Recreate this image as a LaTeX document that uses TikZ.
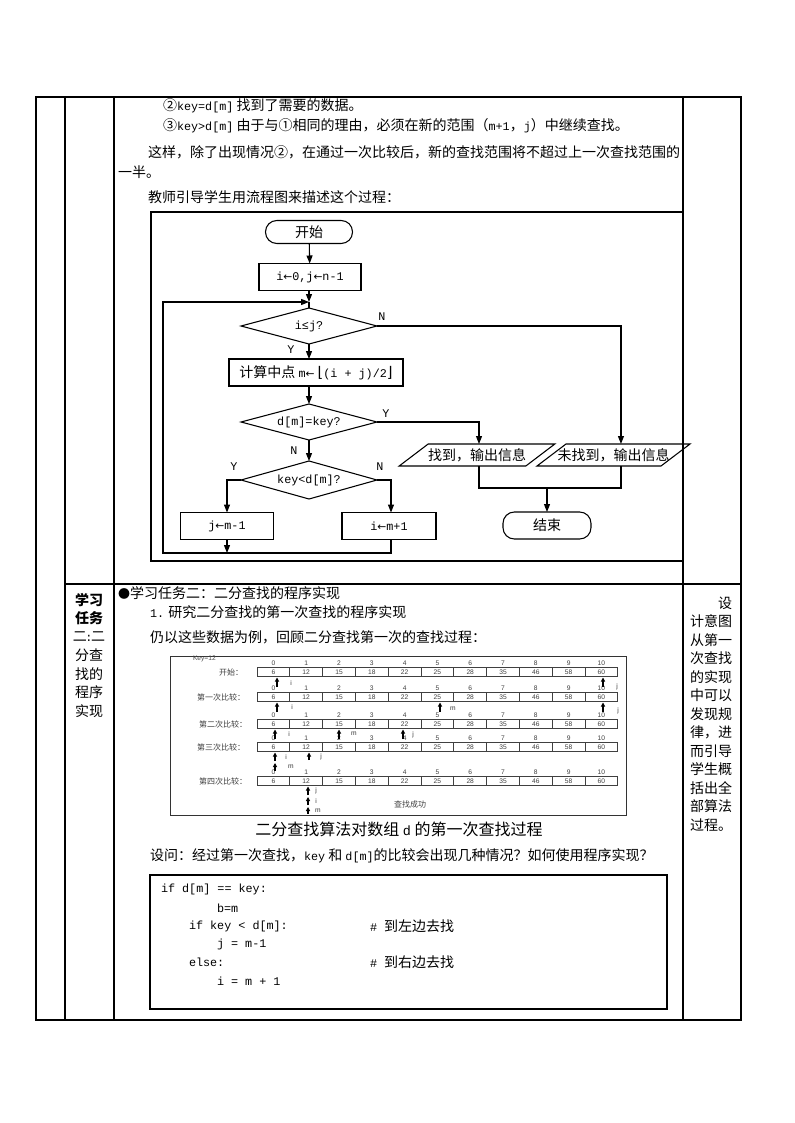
\documentclass[tikz,border=0pt]{standalone}
\usepackage{fontspec}
\setmainfont{Noto Sans CJK SC}
\newfontfamily\mono[Scale=0.84]{Liberation Mono}
\newfontfamily\symf{DejaVu Sans}
\newfontfamily\tinyf{Liberation Sans}
\usetikzlibrary{arrows.meta,shapes.geometric,calc}
\newcommand\myfs{\fontsize{10.5pt}{14pt}\selectfont}
\newcommand\larr{{\symf\fontsize{8pt}{9pt}\selectfont ←}}
\newcommand\arrrow[1]{%
  \foreach \v [count=\k from 0] in {6,12,15,18,22,25,28,35,46,58,60} {%
    \draw[cell] ({257+32.8*\k},{#1-4.5}) rectangle ++(32.8,9);
    \node[tnum] at ({257+32.8*\k+16.4},#1) {\v};
    \node[tnum] at ({257+32.8*\k+16.4},{#1-9}) {\k};
  }}
\begin{document}
\begin{tikzpicture}[x=0.75pt,y=-0.75pt,
  every node/.style={inner sep=0pt, outer sep=0pt},
  tbl/.style={line width=0.9pt},
  box/.style={draw, line width=0.8pt, minimum height=20.25pt, font=\myfs},
  term/.style={box, rounded corners=8.5pt},
  dec/.style={draw, diamond, aspect=3.8, line width=0.8pt, minimum width=102pt, minimum height=27pt, inner sep=0pt, font=\mono\myfs},
  arr/.style={line width=0.8pt, -{Triangle[length=6pt,width=4.5pt]}},
  ln/.style={line width=0.8pt},
  lbl/.style={font=\mono\myfs},
  txt/.style={anchor=west, font=\myfs},
  ctxt/.style={font=\myfs},
  cell/.style={draw=black!75, line width=0.5pt},
  tnum/.style={font=\tinyf\fontsize{5pt}{6pt}\selectfont, text=black!75},
  tlab/.style={font=\fontsize{6pt}{7pt}\selectfont, text=black!75, anchor=east},
  tij/.style={font=\tinyf\fontsize{5pt}{6pt}\selectfont, text=black!80},
  sarr/.style={line width=0.9pt, -{Triangle[length=3pt,width=3pt]}},
  code/.style={anchor=west, font=\mono\myfs}
]
\useasboundingbox (0,0) rectangle (794,1123);
\fill[white] (0,0) rectangle (794,1123);

% ---------- table ----------
\draw[tbl] (36,97) rectangle (741,1020);
\draw[tbl] (65,97) -- (65,1020);
\draw[tbl] (114,97) -- (114,1020);
\draw[tbl] (683,97) -- (683,1020);
\draw[tbl] (65,584) -- (741,584);

% ---------- top text ----------
\node[txt] (t1) at (163,106) {②{\mono key=d[m]} 找到了需要的数据。};
\node[txt] (t2) at (163,126) {③{\mono key>d[m]} 由于与①相同的理由，必须在新的范围（{\mono m+1}，{\mono j}）中继续查找。};
\node[txt] (t3) at (148,152) {这样，除了出现情况②，在通过一次比较后，新的查找范围将不超过上一次查找范围的};
\node[txt] (t4) at (118,172) {一半。};
\node[txt] (t5) at (148,197) {教师引导学生用流程图来描述这个过程：};

% ---------- flowchart ----------
\draw[ln] (151,212) rectangle (683,561);
\node[term, minimum width=65.25pt, minimum height=17.25pt] (start) at (309,232) {开始};
\node[box, minimum width=76.5pt, font=\mono\myfs] (init) at (310,277) {i\larr0,j\larr n-1};
\node[dec] (c1) at (309,326) {i≤j?};
\node[box, minimum width=130.5pt] (mid) at (316,372.5) {计算中点 {\mono m}\larr\ {\symf\fontsize{11pt}{12pt}\selectfont ⌊}{\mono (i + j)/2}{\symf\fontsize{11pt}{12pt}\selectfont ⌋}};
\node[dec] (c2) at (309,422) {d[m]=key?};
\node[dec, minimum height=28.5pt] (c3) at (309,480) {key<d[m]?};
\node[box, minimum width=69.75pt, font=\mono\myfs] (jm) at (227,526) {j\larr m-1};
\node[box, minimum width=70.5pt, font=\mono\myfs] (im) at (389,526) {i\larr m+1};
\node[ctxt, minimum width=95pt, minimum height=16.5pt] (found) at (477,455) {找到，输出信息};
\draw[ln] ($(found.north west)+(14.5,0)$) -- ($(found.north east)+(14.5,0)$) -- ($(found.south east)+(-14.5,0)$) -- ($(found.south west)+(-14.5,0)$) -- cycle;
\node[ctxt, minimum width=93pt, minimum height=16.5pt] (notfound) at (613.5,455) {未找到，输出信息};
\draw[ln] ($(notfound.north west)+(14.5,0)$) -- ($(notfound.north east)+(14.5,0)$) -- ($(notfound.south east)+(-14.5,0)$) -- ($(notfound.south west)+(-14.5,0)$) -- cycle;
\node[term, minimum width=66pt] (end) at (547,525.5) {结束};

\coordinate (jn) at (309,302);
\coordinate (tl) at (163,302);
\coordinate (bl) at (163,553);
\coordinate (merge) at (547,488);

\draw[arr] (start) -- (init);
\draw[arr] (init.south -| jn) -- (jn);
\draw[ln] (jn) -- (c1.north);
\draw[arr] (c1.south) -- (c1.south |- mid.north);
\draw[arr] (c1.south |- mid.south) -- (c2.north);
\draw[arr] (c2.south) -- (c3.north);
\draw[arr] (c1.east) -| ([xshift=5.6pt]notfound.north);
\draw[arr] (c2.east) -| ([xshift=1.5pt]found.north);
\draw[arr] (c3.west) -| (jm.north);
\draw[arr] (c3.east) -| ([xshift=1.5pt]im.north);
\draw[arr] (jm.south) -- (jm.south |- bl);
\draw[arr] ([xshift=1.5pt]im.south) |- (bl) -- (tl) -- (jn);
\draw[ln] ([xshift=1.5pt]found.south) |- (merge) -| ([xshift=5.6pt]notfound.south);
\draw[arr] (merge) -- (end.north);

\node[lbl] (n1) at (382,317) {N};
\node[lbl] (y1) at (291,350) {Y};
\node[lbl] (y2) at (386,414) {Y};
\node[lbl] (n2) at (294,451) {N};
\node[lbl] (y3) at (234,467) {Y};
\node[lbl] (n3) at (380,467) {N};

% ---------- second row ----------
\node[ctxt, font=\myfs\bfseries] (l1) at (89,600) {学习};
\node[ctxt, font=\myfs\bfseries] (l2) at (89,618.5) {任务};
\node[ctxt] (l3) at (89,637) {二\kern-1pt{\mono:}\kern-1pt二};
\node[ctxt] (l4) at (89,655.5) {分查};
\node[ctxt] (l5) at (89,674) {找的};
\node[ctxt] (l6) at (89,692.5) {程序};
\node[ctxt] (l7) at (89,711) {实现};

\node[txt] (s1) at (118,593) {{\fontsize{9pt}{10pt}\selectfont ●}学习任务二：二分查找的程序实现};
\node[txt] (s2) at (150,612) {{\mono 1.} 研究二分查找的第一次查找的程序实现};
\node[txt] (s3) at (150,637) {仍以这些数据为例，回顾二分查找第一次的查找过程：};

% array figure
\draw[draw=black!80, line width=0.6pt] (170,656) rectangle (626,815);
\node[tij, anchor=west, text=black!70] (key) at (193,659) {Key=12};
\arrrow{672}
\arrrow{697}
\arrrow{724}
\arrrow{747}
\arrrow{781}
\node[tlab] (r1) at (243,672) {开始：};
\node[tlab] (r2) at (245,697) {第一次比较：};
\node[tlab] (r3) at (247,724) {第二次比较：};
\node[tlab] (r4) at (245,747) {第三次比较：};
\node[tlab] (r5) at (247,781) {第四次比较：};
% row1
\draw[sarr] (277,687) -- (277,677.5);  \node[tij] at (291,683) {i};
\draw[sarr] (603,687) -- (603,677.5);  \node[tij] at (617,687) {j};
% row2
\draw[sarr] (277,712) -- (277,702.5);  \node[tij] at (292,707) {i};
\draw[sarr] (440,712) -- (440,702.5);  \node[tij] at (453,709) {m};
\draw[sarr] (603,712) -- (603,702.5);  \node[tij] at (618,711) {j};
% row3
\draw[sarr] (275,739) -- (275,729.5);  \node[tij] at (289,734) {i};
\draw[sarr] (339,739) -- (339,729.5);  \node[tij] at (354,734) {m};
\draw[sarr] (403,739) -- (403,729.5);  \node[tij] at (413,735) {j};
% row4
\draw[sarr] (275,761) -- (275,752.5);  \node[tij] at (286,757) {i};
\draw[sarr] (275,771) -- (275,763);    \node[tij] at (291,767) {m};
\draw[sarr] (309,760) -- (309,752.5);  \node[tij] at (321,757) {j};
% row5
\draw[sarr] (308,795) -- (308,786.5);  \node[tij] at (316,791) {j};
\draw[sarr] (308,805) -- (308,797);    \node[tij] at (316,801) {i};
\draw[sarr] (308,814) -- (308,807);    \node[tij] at (318,811) {m};
\node[font=\fontsize{6pt}{7pt}\selectfont, text=black!75] (ok) at (410,804) {查找成功};

\node[font=\fontsize{12pt}{14pt}\selectfont] (cap) at (399,829) {二分查找算法对数组 {\mono d} 的第一次查找过程};

\node[txt] (q) at (150,856) {设问：经过第一次查找，{\mono key} 和 {\mono d[m]}的比较会出现几种情况？如何使用程序实现？};

% code box
\draw[ln] (150,875) rectangle (667,1009);
\node[code] (k1) at (161,889) {if d[m] == key:};
\node[code] (k2) at (217,908) {b=m};
\node[code] (k3) at (189,926) {if key < d[m]:};
\node[code] (k4) at (370,926) {\# {\rmfamily 到左边去找}};
\node[code] (k5) at (217,944) {j = m-1};
\node[code] (k6) at (189,962) {else:};
\node[code] (k7) at (370,962) {\# {\rmfamily 到右边去找}};
\node[code] (k8) at (217,981) {i = m + 1};

% right column
\node[txt] (d1) at (718,603) {设};
\node[txt] (d2) at (690,621.5) {计意图};
\node[txt] (d3) at (690,640) {从第一};
\node[txt] (d4) at (690,658.5) {次查找};
\node[txt] (d5) at (690,677) {的实现};
\node[txt] (d6) at (690,695.5) {中可以};
\node[txt] (d7) at (690,714) {发现规};
\node[txt] (d8) at (690,732.5) {律，进};
\node[txt] (d9) at (690,751) {而引导};
\node[txt] (d10) at (690,769.5) {学生概};
\node[txt] (d11) at (690,788) {括出全};
\node[txt] (d12) at (690,806.5) {部算法};
\node[txt] (d13) at (690,825) {过程。};
\end{tikzpicture}
\end{document}
